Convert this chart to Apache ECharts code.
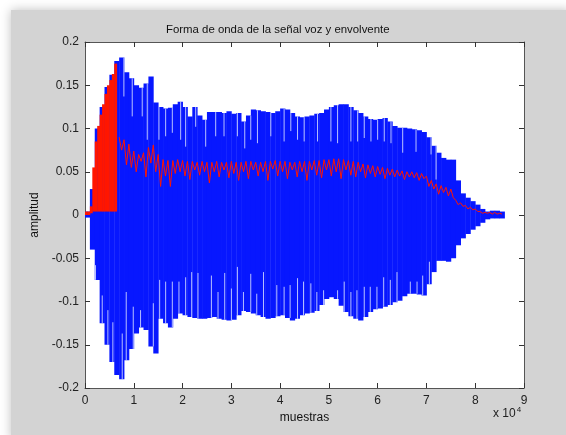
<!DOCTYPE html>
<html>
<head>
<meta charset="utf-8">
<script src="https://cdn.jsdelivr.net/npm/echarts@6/dist/echarts.min.js"></script>
<style>
  html, body { margin: 0; padding: 0; background: #fff; }
  #chart { width: 566px; height: 435px; }
</style>
</head>
<body>
<div id="chart"></div>
<script>
// eje x en muestras, bloques de 1000 muestras
const STEP = 1000
const xTicks = [0, 1, 2, 3, 4, 5, 6, 7, 8, 9]
const yTicks = [-0.2, -0.15, -0.1, -0.05, 0, 0.05, 0.1, 0.15, 0.2]

// envolvente superior / inferior de la forma de onda (azul), desde x = 0
const blueHi = [
  0.004, 0.03, 0.1, 0.125, 0.148, 0.162, 0.178, 0.182, 0.165, 0.158,
  0.15, 0.147, 0.152, 0.16, 0.13, 0.125, 0.123, 0.124, 0.128, 0.131,
  0.125, 0.114, 0.125, 0.115, 0.11, 0.119, 0.119, 0.119, 0.118, 0.12,
  0.117, 0.118, 0.108, 0.115, 0.122, 0.121, 0.12, 0.119, 0.118, 0.12,
  0.123, 0.122, 0.118, 0.114, 0.113, 0.114, 0.115, 0.117, 0.118, 0.122,
  0.125, 0.127, 0.128, 0.128, 0.125, 0.121, 0.118, 0.114, 0.111, 0.11,
  0.111, 0.112, 0.108, 0.103, 0.101, 0.101, 0.1, 0.099, 0.098, 0.096,
  0.09, 0.08, 0.072, 0.066, 0.064, 0.064, 0.04, 0.025, 0.02, 0.016,
  0.012, 0.007, 0.004, 0.005, 0.005, 0.004
]
const blueLo = [
  -0.003, -0.04, -0.075, -0.125, -0.15, -0.17, -0.185, -0.19, -0.168, -0.155,
  -0.137, -0.13, -0.133, -0.152, -0.16, -0.12, -0.125, -0.13, -0.12, -0.114,
  -0.116, -0.118, -0.119, -0.12, -0.12, -0.119, -0.118, -0.12, -0.121, -0.122,
  -0.121, -0.116, -0.111, -0.112, -0.114, -0.116, -0.118, -0.12, -0.119, -0.117,
  -0.116, -0.119, -0.122, -0.12, -0.116, -0.114, -0.113, -0.111, -0.104, -0.097,
  -0.095, -0.097, -0.105, -0.112, -0.117, -0.12, -0.122, -0.118, -0.112, -0.109,
  -0.108, -0.106, -0.104, -0.101, -0.099, -0.094, -0.091, -0.091, -0.092, -0.093,
  -0.08, -0.066, -0.053, -0.053, -0.054, -0.05, -0.035, -0.027, -0.022, -0.017,
  -0.013, -0.009, -0.005, -0.004, -0.004, -0.004
]

// huecos claros entre periodos (muestra, valor hasta donde llega el hueco)
const gapTopX = [7870, 9580, 11630, 12660, 15060, 16430, 17800, 19510, 20530, 22590, 24640, 26690,
  28400, 31140, 32650, 33880, 35250, 37990, 40720, 42090, 43470, 44830, 47570, 50310,
  51680, 54410, 55790, 57150, 58520, 59890, 61250, 62630, 65030, 67760, 70840, 71870]
const gapTopY = [0.137, 0.114, 0.114, 0.087, 0.087, 0.091, 0.095, 0.087, 0.079, 0.102, 0.079, 0.091,
  0.091, 0.091, 0.077, 0.087, 0.083, 0.091, 0.085, 0.097, 0.087, 0.085, 0.085, 0.085,
  0.083, 0.085, 0.085, 0.089, 0.085, 0.087, 0.085, 0.083, 0.072, 0.073, 0.07, 0.041]
const gapBotX = [2050, 3430, 4590, 5610, 7530, 8350, 9790, 11290, 13900, 15200, 16430, 17800,
  19160, 20530, 21770, 23060, 25810, 27170, 28540, 29910, 31140, 32380, 33880, 35110,
  36490, 39220, 40720, 41950, 43470, 44700, 46200, 47430, 48810, 51680, 53040, 54410,
  55650, 57150, 58380, 59750, 61130, 62490, 63860, 66590, 67970, 69130, 70500]
const gapBotY = [-0.058, -0.093, -0.11, -0.124, -0.137, -0.089, -0.106, -0.11, -0.102, -0.075, -0.077, -0.077,
  -0.077, -0.072, -0.066, -0.067, -0.07, -0.089, -0.067, -0.085, -0.06, -0.089, -0.068, -0.091,
  -0.066, -0.081, -0.083, -0.081, -0.073, -0.077, -0.079, -0.089, -0.087, -0.087, -0.077, -0.089,
  -0.087, -0.083, -0.083, -0.083, -0.072, -0.075, -0.066, -0.077, -0.077, -0.07, -0.054]

// envolvente (rojo): tramo inicial relleno, bloques de 500 muestras
const BURST_STEP = 500
const redBurstHi = [0.004, 0.004, 0.01, 0.055, 0.085, 0.103, 0.116, 0.128, 0.14, 0.15, 0.156, 0.163, 0.175]
const redBurstLo = [0, 0, 0.002, 0.004, 0.004, 0.004, 0.004, 0.004, 0.004, 0.004, 0.004, 0.004, 0.004]

// envolvente (rojo) desde 7000: cresta cada 1000 muestras y bajada intermedia
const RED_START = 7000
const redTop = [
  0.09, 0.087, 0.082, 0.074, 0.07, 0.072, 0.078, 0.081, 0.07, 0.064,
  0.063, 0.063, 0.064, 0.063, 0.062, 0.062, 0.061, 0.062, 0.061, 0.061,
  0.062, 0.061, 0.061, 0.062, 0.061, 0.061, 0.062, 0.062, 0.061, 0.061,
  0.062, 0.062, 0.063, 0.062, 0.062, 0.061, 0.061, 0.062, 0.062, 0.062,
  0.063, 0.063, 0.064, 0.064, 0.065, 0.065, 0.064, 0.063, 0.062, 0.061,
  0.059, 0.058, 0.057, 0.056, 0.055, 0.054, 0.053, 0.052, 0.051, 0.05,
  0.05, 0.049, 0.048, 0.045, 0.04, 0.036, 0.034, 0.032, 0.03, 0.017,
  0.014, 0.011, 0.009, 0.007, 0.004, 0.003, 0.003, 0.003, 0.002
]
const redDip = [
  0.075, 0.058, 0.055, 0.05, 0.062, 0.044, 0.06, 0.05, 0.033, 0.045,
  0.033, 0.048, 0.05, 0.045, 0.041, 0.052, 0.046, 0.05, 0.037, 0.05,
  0.044, 0.052, 0.043, 0.048, 0.04, 0.05, 0.042, 0.052, 0.045, 0.05,
  0.04, 0.053, 0.045, 0.05, 0.042, 0.052, 0.044, 0.05, 0.04, 0.052,
  0.046, 0.043, 0.052, 0.045, 0.05, 0.042, 0.052, 0.046, 0.044, 0.05,
  0.043, 0.048, 0.044, 0.047, 0.042, 0.046, 0.044, 0.045, 0.041, 0.044,
  0.043, 0.04, 0.042, 0.033, 0.03, 0.024, 0.026, 0.022, 0.02, 0.012,
  0.01, 0.007, 0.006, 0.004, 0.002, 0.002, 0.001, 0.001, 0.001
]

const BLUE = '#0717ff'
const RED = '#ff1600'
const FONT = 'Liberation Sans, Arial, sans-serif'

let blueData = blueHi.map((hi, i) => [i * STEP, blueLo[i], hi, STEP])
let burstData = redBurstHi.map((hi, i) => [i * BURST_STEP, redBurstLo[i], hi, BURST_STEP])
// cada hueco va desde su valor hasta el borde de la envolvente de su bloque
let topGaps = gapTopX.map((x, i) => [x, gapTopY[i], blueHi[Math.floor(x / STEP)]])
let botGaps = gapBotX.map((x, i) => [x, blueLo[Math.floor(x / STEP)], gapBotY[i]])

let redLine = []
redTop.forEach((v, i) => {
  let x = RED_START + i * STEP
  redLine.push([x, v])
  redLine.push([x + STEP / 2, redDip[i]])
})

function renderBand(params, api) {
  let x0 = api.value(0)
  let p1 = api.coord([x0, api.value(2)])
  let p2 = api.coord([x0 + api.value(3), api.value(1)])
  return {
    type: 'rect',
    shape: { x: p1[0], y: p1[1], width: p2[0] - p1[0] + 0.4, height: Math.max(p2[1] - p1[1], 1) },
    style: { fill: api.visual('color') },
  }
}

function renderGap(params, api) {
  let a = api.coord([api.value(0), api.value(1)])
  let b = api.coord([api.value(0), api.value(2)])
  return {
    type: 'line',
    shape: { x1: a[0] + 0.5, y1: a[1], x2: b[0] + 0.5, y2: b[1] },
    style: { stroke: 'rgba(215,222,255,0.85)', lineWidth: 1 },
  }
}

let chart = echarts.init(document.getElementById('chart'))

let axisCommonX = {
  type: 'value',
  min: 0,
  max: 90000,
  interval: 10000,
  axisLine: { show: true, onZero: false, lineStyle: { color: '#555', width: 1 } },
  axisTick: { show: true, inside: true, length: 5, lineStyle: { color: '#333' } },
  splitLine: { show: false },
}
let axisCommonY = {
  type: 'value',
  min: -0.2,
  max: 0.2,
  interval: 0.05,
  axisLine: { show: true, onZero: false, lineStyle: { color: '#555', width: 1 } },
  axisTick: { show: true, inside: true, length: 5, lineStyle: { color: '#333' } },
  splitLine: { show: false },
}

let option = {
  backgroundColor: '#fff',
  animation: false,
  grid: {
    left: 85, right: 42, top: 42, bottom: 47,
    show: true, backgroundColor: '#fff', borderWidth: 0,
  },
  graphic: [
    {
      type: 'rect', z: -100, silent: true,
      shape: { x: 11, y: 10, width: 560, height: 430 },
      style: { fill: '#d3d3d3', shadowBlur: 10, shadowColor: 'rgba(0,0,0,0.25)' },
    },
    {
      type: 'text', left: 166, top: 24,
      style: { text: 'Forma de onda de la señal voz y envolvente', font: '11.4px ' + FONT, fill: '#111' },
    },
    {
      type: 'text', left: 493, top: 406,
      style: {
        text: '{a|x 10}{b|4}',
        rich: {
          a: { font: '12px ' + FONT, fill: '#222' },
          b: { font: '8px ' + FONT, fill: '#222', verticalAlign: 'top', padding: [0, 0, 8, 1] },
        },
      },
    },
  ],
  xAxis: [
    Object.assign({}, axisCommonX, {
      position: 'bottom',
      name: 'muestras',
      nameLocation: 'middle',
      nameGap: 24,
      nameTextStyle: { fontFamily: FONT, fontSize: 12, color: '#111' },
      axisLabel: {
        margin: 7, fontFamily: FONT, fontSize: 12, color: '#222',
        formatter: v => String(xTicks[Math.round(v / 10000)]),
      },
    }),
    Object.assign({}, axisCommonX, { position: 'top', axisLabel: { show: false } }),
  ],
  yAxis: [
    Object.assign({}, axisCommonY, {
      position: 'left',
      name: 'amplitud',
      nameLocation: 'middle',
      nameGap: 39,
      nameTextStyle: { fontFamily: FONT, fontSize: 12, color: '#111' },
      axisLabel: {
        margin: 6, fontFamily: FONT, fontSize: 12, color: '#222',
        formatter: v => String(yTicks[Math.round((v + 0.2) / 0.05)]),
      },
    }),
    Object.assign({}, axisCommonY, { position: 'right', axisLabel: { show: false } }),
  ],
  series: [
    {
      name: 'voz',
      type: 'custom',
      renderItem: renderBand,
      clip: true,
      itemStyle: { color: BLUE },
      encode: { x: 0, y: [1, 2] },
      data: blueData,
      z: 1,
    },
    {
      name: 'huecos sup',
      type: 'custom',
      renderItem: renderGap,
      clip: true,
      encode: { x: 0, y: [1, 2] },
      data: topGaps,
      z: 2,
    },
    {
      name: 'huecos inf',
      type: 'custom',
      renderItem: renderGap,
      clip: true,
      encode: { x: 0, y: [1, 2] },
      data: botGaps,
      z: 2,
    },
    {
      name: 'envolvente inicio',
      type: 'custom',
      renderItem: renderBand,
      clip: true,
      itemStyle: { color: RED },
      encode: { x: 0, y: [1, 2] },
      data: burstData,
      z: 3,
    },
    {
      name: 'envolvente',
      type: 'line',
      showSymbol: false,
      clip: true,
      lineStyle: { color: RED, width: 1 },
      data: redLine,
      z: 4,
    },
  ],
}

chart.setOption(option)
</script>
</body>
</html>
